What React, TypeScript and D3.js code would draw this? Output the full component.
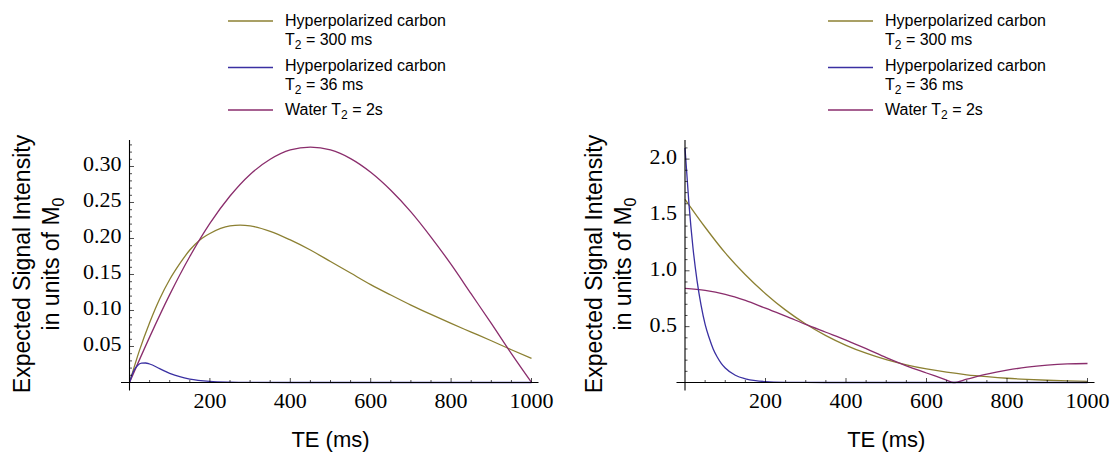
import React from "react";
import * as d3 from "d3";

// ---------- Data ----------
// Left panel
const leftOliveTE = [0, 25, 50, 75, 100, 125, 150, 175, 200, 250, 275, 300, 350, 400, 450, 500, 550, 600, 650, 700, 750, 800, 850, 900, 950, 1000];
const leftOliveVal = [0, 0.045, 0.083, 0.116, 0.143, 0.165, 0.184, 0.198, 0.207, 0.2175, 0.2185, 0.2175, 0.21, 0.198, 0.184, 0.168, 0.152, 0.136, 0.1215, 0.1075, 0.0945, 0.082, 0.07, 0.058, 0.0455, 0.0335];

const leftBlueTE = [0, 10, 20, 30, 40, 50, 75, 100, 125, 150, 200, 250, 300, 400, 500, 600, 700, 800, 900, 1000];
const leftBlueVal = [0, 0.0156, 0.0237, 0.0269, 0.0271, 0.0257, 0.0193, 0.0128, 0.008, 0.0048, 0.0016, 0.0005, 0.00015, 0, 0, 0, 0, 0, 0, 0];

const leftWaterTE = [0, 50, 100, 150, 200, 250, 300, 350, 400, 450, 500, 550, 600, 650, 700, 750, 800, 850, 900, 950, 1000];
const leftWaterVal = [0, 0.063, 0.122, 0.175, 0.221, 0.259, 0.289, 0.31, 0.323, 0.327, 0.323, 0.311, 0.292, 0.267, 0.237, 0.202, 0.164, 0.123, 0.082, 0.04, 0];

// Right panel
const rightOliveTE = [0, 50, 100, 150, 200, 250, 300, 350, 400, 450, 500, 550, 600, 650, 700, 750, 800, 850, 900, 950, 1000];
const rightOliveVal = [1.64, 1.39, 1.16, 0.965, 0.795, 0.648, 0.524, 0.42, 0.333, 0.262, 0.204, 0.158, 0.121, 0.092, 0.069, 0.052, 0.038, 0.028, 0.02, 0.0145, 0.0104];

const rightBlueTE = [0, 10, 20, 30, 40, 50, 60, 70, 80, 90, 100, 125, 150, 175, 200, 250, 300, 400, 500, 600, 700, 800, 900, 1000];
const rightBlueVal = [2.1, 1.59, 1.2, 0.91, 0.69, 0.52, 0.4, 0.3, 0.228, 0.172, 0.13, 0.065, 0.033, 0.016, 0.008, 0.002, 0.0005, 0, 0, 0, 0, 0, 0, 0];

const rightWaterTE = [0, 50, 100, 150, 200, 250, 300, 350, 400, 450, 500, 550, 600, 650, 667, 700, 750, 800, 850, 900, 950, 1000];
const rightWaterVal = [0.842, 0.825, 0.79, 0.735, 0.665, 0.595, 0.52, 0.45, 0.38, 0.303, 0.222, 0.149, 0.085, 0.022, 0, 0.03, 0.075, 0.11, 0.137, 0.155, 0.166, 0.17];

const xTickLabels = [200, 400, 600, 800, 1000];
const leftYTickLabels = [0.05, 0.1, 0.15, 0.2, 0.25, 0.3];
const rightYTickLabels = [0.5, 1.0, 1.5, 2.0];

const COLORS = { olive: "#8c8032", blue: "#3a30a2", water: "#8a2d6c" };

type Series = { te: number[]; val: number[]; color: string };

const SERIF = "'Liberation Serif', 'Times New Roman', serif";
const SANS = "'Liberation Sans', Arial, sans-serif";

function Panel(props: {
  x0: number;
  x1: number;
  yMax: number;
  series: Series[];
  yTicks: number[];
  yFmt: (v: number) => string;
  minorY: number;
  titleX: number;
  legendX: number;
}) {
  const { x0, x1, yMax, series, yTicks, yFmt, minorY, titleX, legendX } = props;
  const yBottom = 382.5;
  const yTop = 140;
  const x = d3.scaleLinear().domain([0, 1000]).range([x0, x1]);
  const y = d3.scaleLinear().domain([0, yMax]).range([yBottom, yTop]);
  const line = d3
    .line<[number, number]>()
    .x((d) => x(d[0]))
    .y((d) => y(d[1]))
    .curve(d3.curveMonotoneX);

  const minorX = d3.range(50, 1001, 50);
  const nMinorY = Math.floor(yMax / minorY + 1e-9);
  const minorYs = d3.range(1, nMinorY + 1).map((i) => i * minorY);

  const legendEntries = [
    { color: COLORS.olive, lines: [["Hyperpolarized carbon"], ["T", "2", " = 300 ms"]] },
    { color: COLORS.blue, lines: [["Hyperpolarized carbon"], ["T", "2", " = 36 ms"]] },
    { color: COLORS.water, lines: [["Water T", "2", " = 2s"]] },
  ];
  const legendLineY = [21, 67.5, 110];
  const legendTextY = [[26, 45], [71, 90], [115]];

  return (
    <g>
      {series.map((s, i) => (
        <path
          key={i}
          d={line(s.te.map((t, j) => [t, s.val[j]] as [number, number])) || ""}
          fill="none"
          stroke={s.color}
          strokeWidth={1.3}
        />
      ))}
      <line x1={x0 - 8.5} x2={x1 + 7} y1={yBottom} y2={yBottom} stroke="#000" strokeWidth={1.1} />
      <line x1={x0} x2={x0} y1={yTop} y2={yBottom + 8} stroke="#000" strokeWidth={1.1} />
      {minorX.map((t) => (
        <line
          key={"xt" + t}
          x1={x(t)}
          x2={x(t)}
          y1={yBottom}
          y2={yBottom - (t % 200 === 0 ? 4.5 : 2.5)}
          stroke="#000"
          strokeWidth={0.7}
        />
      ))}
      {xTickLabels.map((t) => (
        <text key={"xl" + t} x={x(t)} y={408} textAnchor="middle" fontFamily={SERIF} fontSize={22} fill="#000">
          {t}
        </text>
      ))}
      {minorYs.map((v, i) => {
        const major = yTicks.some((m) => Math.abs(m - v) < 1e-6);
        return (
          <line
            key={"yt" + i}
            x1={x0}
            x2={x0 + (major ? 4.5 : 2.5)}
            y1={y(v)}
            y2={y(v)}
            stroke="#000"
            strokeWidth={0.7}
          />
        );
      })}
      {yTicks.map((v) => (
        <text key={"yl" + v} x={x0 - 8} y={y(v) + 5} textAnchor="end" fontFamily={SERIF} fontSize={22} fill="#000">
          {yFmt(v)}
        </text>
      ))}
      <text x={(x0 + x1) / 2} y={447} textAnchor="middle" fontFamily={SANS} fontSize={22} fill="#000">
        TE (ms)
      </text>
      <g transform={`translate(${titleX},264) rotate(-90)`}>
        <text x={0} y={0} textAnchor="middle" fontFamily={SANS} fontSize={23} fill="#000">
          Expected Signal Intensity
        </text>
        <text x={0} y={29} textAnchor="middle" fontFamily={SANS} fontSize={23} fill="#000">
          in units of M<tspan fontSize={16} dy={5}>0</tspan>
        </text>
      </g>
      {legendEntries.map((e, i) => (
        <g key={"lg" + i}>
          <line x1={legendX} x2={legendX + 45} y1={legendLineY[i]} y2={legendLineY[i]} stroke={e.color} strokeWidth={1.5} />
          {e.lines.map((parts, k) => (
            <text key={k} x={legendX + 57} y={legendTextY[i][k]} fontFamily={SANS} fontSize={16} fill="#000">
              {parts.length === 1 ? (
                parts[0]
              ) : (
                <>
                  <tspan>{parts[0]}</tspan>
                  <tspan fontSize={12} dy={4}>{parts[1]}</tspan>
                  <tspan dy={-4}>{parts[2]}</tspan>
                </>
              )}
            </text>
          ))}
        </g>
      ))}
    </g>
  );
}

export default function App() {
  const leftSeries: Series[] = [
    { te: leftOliveTE, val: leftOliveVal, color: COLORS.olive },
    { te: leftWaterTE, val: leftWaterVal, color: COLORS.water },
    { te: leftBlueTE, val: leftBlueVal, color: COLORS.blue },
  ];
  const rightSeries: Series[] = [
    { te: rightOliveTE, val: rightOliveVal, color: COLORS.olive },
    { te: rightWaterTE, val: rightWaterVal, color: COLORS.water },
    { te: rightBlueTE, val: rightBlueVal, color: COLORS.blue },
  ];
  return (
    <svg
      width={1111}
      height={453}
      style={{ position: "fixed", left: 0, top: 0, background: "#fff" }}
    >
      <rect width={1111} height={453} fill="#fff" />
      <Panel
        x0={129.5}
        x1={531.5}
        yMax={0.3368}
        series={leftSeries}
        yTicks={leftYTickLabels}
        yFmt={(v) => v.toFixed(2)}
        minorY={0.01}
        titleX={30}
        legendX={228}
      />
      <Panel
        x0={685}
        x1={1087.5}
        yMax={2.171}
        series={rightSeries}
        yTicks={rightYTickLabels}
        yFmt={(v) => v.toFixed(1)}
        minorY={0.1}
        titleX={602}
        legendX={828}
      />
    </svg>
  );
}
